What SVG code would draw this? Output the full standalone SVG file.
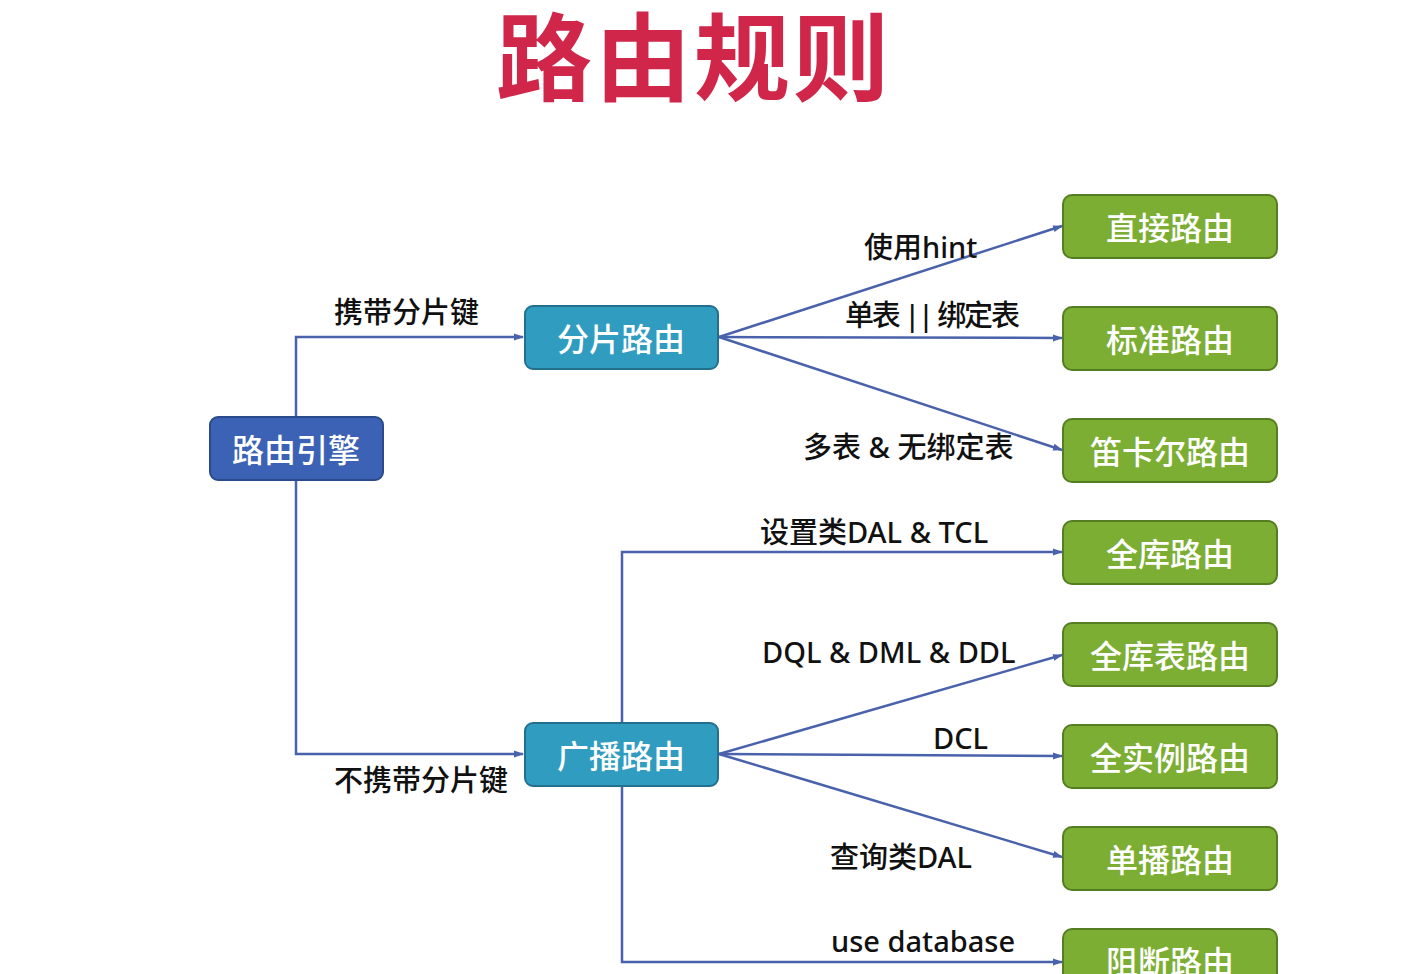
<svg xmlns="http://www.w3.org/2000/svg" width="1411" height="974" viewBox="0 0 1411 974">
  <style>
    text { font-family: "Noto Sans", "Noto Sans CJK SC", sans-serif; }
    .title { font-size: 96px; font-weight: bold; fill: #d0264a; text-anchor: middle; letter-spacing: 3px; }
    .node-text { font-size: 32px; font-weight: 500; fill: #ffffff; text-anchor: middle; dominant-baseline: central; }
    .label { font-size: 29px; font-weight: 500; fill: #111111; }
    .engine { fill: #3b62b4; stroke: #2a4a8c; stroke-width: 2; }
    .route { fill: #2f9cc0; stroke: #22708e; stroke-width: 2; }
    .leaf { fill: #7bae33; stroke: #557d22; stroke-width: 2; }
    .conn { fill: none; stroke: #4a62ab; stroke-width: 2.5; }
  </style>
  <defs>
    <marker id="arrow" markerWidth="10" markerHeight="10" refX="9" refY="5" orient="auto" markerUnits="userSpaceOnUse">
      <path d="M0,1.5 L10,5 L0,8.5 z" fill="#4a62ab"/>
    </marker>
  </defs>

  <rect width="1411" height="974" fill="#ffffff"/>

  <text class="title" x="694" y="93">路由规则</text>

  <g id="connectors">
    <path class="conn" d="M296,417 V337 H523" marker-end="url(#arrow)"/>
    <path class="conn" d="M296,480 V754 H523" marker-end="url(#arrow)"/>
    <path class="conn" d="M719,337 L1062,226" marker-end="url(#arrow)"/>
    <path class="conn" d="M719,337 L1062,338" marker-end="url(#arrow)"/>
    <path class="conn" d="M719,337 L1062,450" marker-end="url(#arrow)"/>
    <path class="conn" d="M622,723 V552 H1062" marker-end="url(#arrow)"/>
    <path class="conn" d="M719,754 L1062,655" marker-end="url(#arrow)"/>
    <path class="conn" d="M719,754 L1062,756" marker-end="url(#arrow)"/>
    <path class="conn" d="M719,754 L1062,857" marker-end="url(#arrow)"/>
    <path class="conn" d="M622,786 V962 H1062" marker-end="url(#arrow)"/>
  </g>

  <g id="edge-labels">
    <text class="label" x="334" y="323">携带分片键</text>
    <text class="label" x="334" y="791">不携带分片键</text>
    <text class="label" x="864" y="258">使用hint</text>
    <text class="label" x="845" y="326" textLength="175" lengthAdjust="spacing">单表 || 绑定表</text>
    <text class="label" x="803" y="458">多表 &amp; 无绑定表</text>
    <text class="label" x="760" y="543">设置类DAL &amp; TCL</text>
    <text class="label" x="762" y="663">DQL &amp; DML &amp; DDL</text>
    <text class="label" x="933" y="749">DCL</text>
    <text class="label" x="830" y="868">查询类DAL</text>
    <text class="label" x="831" y="952">use database</text>
  </g>

  <g id="node-engine">
    <rect class="engine" x="210" y="417" width="173" height="63" rx="8"/>
    <text class="node-text" x="296" y="449">路由引擎</text>
  </g>
  <g id="node-sharding">
    <rect class="route" x="525" y="306" width="193" height="63" rx="8"/>
    <text class="node-text" x="621" y="338">分片路由</text>
  </g>
  <g id="node-broadcast">
    <rect class="route" x="525" y="723" width="193" height="63" rx="8"/>
    <text class="node-text" x="621" y="755">广播路由</text>
  </g>

  <g id="node-direct">
    <rect class="leaf" x="1063" y="195" width="214" height="63" rx="9"/>
    <text class="node-text" x="1170" y="227">直接路由</text>
  </g>
  <g id="node-standard">
    <rect class="leaf" x="1063" y="307" width="214" height="63" rx="9"/>
    <text class="node-text" x="1170" y="339">标准路由</text>
  </g>
  <g id="node-cartesian">
    <rect class="leaf" x="1063" y="419" width="214" height="63" rx="9"/>
    <text class="node-text" x="1170" y="451">笛卡尔路由</text>
  </g>
  <g id="node-database-broadcast">
    <rect class="leaf" x="1063" y="521" width="214" height="63" rx="9"/>
    <text class="node-text" x="1170" y="553">全库路由</text>
  </g>
  <g id="node-database-table">
    <rect class="leaf" x="1063" y="623" width="214" height="63" rx="9"/>
    <text class="node-text" x="1170" y="655">全库表路由</text>
  </g>
  <g id="node-instance">
    <rect class="leaf" x="1063" y="725" width="214" height="63" rx="9"/>
    <text class="node-text" x="1170" y="757">全实例路由</text>
  </g>
  <g id="node-unicast">
    <rect class="leaf" x="1063" y="827" width="214" height="63" rx="9"/>
    <text class="node-text" x="1170" y="859">单播路由</text>
  </g>
  <g id="node-block">
    <rect class="leaf" x="1063" y="929" width="214" height="63" rx="9"/>
    <text class="node-text" x="1170" y="961">阻断路由</text>
  </g>
</svg>
